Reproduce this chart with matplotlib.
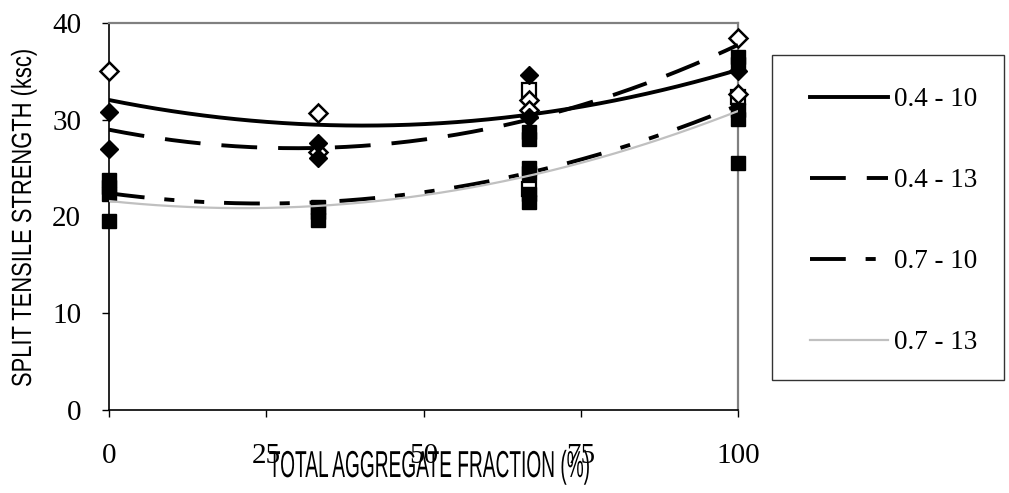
import numpy as np
import matplotlib
matplotlib.use("Agg")
import matplotlib.pyplot as plt
from matplotlib.lines import Line2D
from matplotlib.patches import Rectangle
from matplotlib.patheffects import AbstractPathEffect
from matplotlib.transforms import Affine2D

# aggregate fractions (%) used in the test series
fractions = [0, 33.3, 66.7, 100]

# measured points, grouped by marker style
filled_diamond_x = [0, 0, 33.3, 33.3, 66.7, 66.7, 100]
filled_diamond_y = [30.8, 27.0, 27.6, 26.0, 34.6, 30.3, 35.0]
open_diamond_x = [0, 33.3, 33.3, 66.7, 66.7, 100, 100]
open_diamond_y = [35.0, 30.7, 26.7, 32.0, 31.0, 38.4, 32.7]
filled_square_x = [0, 0, 0, 0, 33.3, 33.3, 33.3, 66.7, 66.7, 66.7, 66.7, 66.7, 66.7,
                   100, 100, 100, 100, 100]
filled_square_y = [23.8, 23.0, 22.3, 19.5, 21.0, 20.5, 19.6, 28.7, 28.0, 25.0, 24.5, 22.3, 21.5,
                   36.5, 35.8, 31.0, 30.1, 25.5]
open_square_x = [66.7, 66.7, 100]
open_square_y = [33.1, 22.8, 32.4]

# polynomial trendline levels read at each fraction
series_names = ["0.4 - 10", "0.4 - 13", "0.7 - 10", "0.7 - 13"]
trend_04_10 = [32.0, 29.6, 30.4, 35.2]
trend_04_13 = [29.0, 27.0, 30.1, 37.7]
trend_07_10 = [22.4, 21.5, 24.5, 31.5]
trend_07_13 = [21.6, 21.1, 24.2, 30.9]


class Squeeze(AbstractPathEffect):
    # squeeze text around its centre (the original labels are very condensed)
    def __init__(self, sx=1.0, sy=1.0):
        super().__init__()
        self.sx, self.sy = sx, sy

    def draw_path(self, renderer, gc, tpath, affine, rgbFace=None):
        ext = tpath.get_extents(affine)
        cx, cy = (ext.x0 + ext.x1) / 2, (ext.y0 + ext.y1) / 2
        sq = Affine2D().translate(-cx, -cy).scale(self.sx, self.sy).translate(cx, cy)
        renderer.draw_path(gc, tpath, affine + sq, rgbFace)


W, H = 1009, 493
fig = plt.figure(figsize=(W / 100, H / 100), dpi=100)
ax = fig.add_axes([109 / W, 1 - 410 / H, (738 - 109) / W, (410 - 23) / H])

# markers
ax.plot(open_square_x, open_square_y, ls="none", marker="s", ms=10.5, mfc="white",
        mec="black", mew=1.6, clip_on=False, zorder=3)
ax.plot(open_diamond_x, open_diamond_y, ls="none", marker="D", ms=9, mfc="white",
        mec="black", mew=1.8, clip_on=False, zorder=3)
ax.plot(filled_diamond_x, filled_diamond_y, ls="none", marker="D", ms=9, color="black",
        clip_on=False, zorder=4)
ax.plot(filled_square_x, filled_square_y, ls="none", marker="s", ms=10.5, color="black",
        clip_on=False, zorder=4)

# trendlines (2nd order polynomial, as in the original)
styles = [
    dict(color="black", lw=2.8, ls="-"),
    dict(color="black", lw=2.8, dashes=(9.2, 5.4)),
    dict(color="black", lw=2.8, dashes=(9.2, 5.1, 2.6, 5.1, 2.6, 5.1)),
    dict(color="#c0c0c0", lw=1.6, ls="-"),
]
xs = np.linspace(0, 100, 200)
handles = []
for trend, st in zip([trend_04_10, trend_04_13, trend_07_10, trend_07_13], styles):
    coef = np.polyfit(fractions, trend, 2)
    ax.plot(xs, np.polyval(coef, xs), zorder=5, **st)
    handles.append(Line2D([], [], **st))

ax.set_xlim(0, 100)
ax.set_ylim(0, 40)
ax.set_xticks([0, 25, 50, 75, 100])
ax.set_yticks([0, 10, 20, 30, 40])
ax.tick_params(direction="out", length=5, width=1, labelsize=21, colors="black")
ax.tick_params(axis="x", pad=19)
ax.tick_params(axis="y", pad=15)
for lab in ax.get_xticklabels() + ax.get_yticklabels():
    lab.set_family("Liberation Serif")
for side in ["left", "bottom"]:
    ax.spines[side].set_color("black")
    ax.spines[side].set_linewidth(1.2)
for side in ["top", "right"]:
    ax.spines[side].set_color("#808080")
    ax.spines[side].set_linewidth(1.6)

fig.text(430 / W, 1 - 467 / H, "TOTAL AGGREGATE FRACTION (%)", family="Liberation Sans",
         fontsize=27, ha="center", va="center", path_effects=[Squeeze(sx=0.51)])
fig.text(24 / W, 1 - 218 / H, "SPLIT TENSILE STRENGTH (ksc)", family="Liberation Sans",
         fontsize=20, rotation=90, ha="center", va="center", path_effects=[Squeeze(sy=0.79)])

# legend box
fig.patches.append(Rectangle((772 / W, 1 - 380 / H), (1004 - 772) / W, (380 - 55) / H,
                             transform=fig.transFigure, fill=False, ec="#333333", lw=1))
fig.legend(handles, series_names, loc="upper left", bbox_to_anchor=(810 / W, 1 - 87 / H),
           frameon=False, prop={"family": "Liberation Serif", "size": 19.5},
           handlelength=2.88, handletextpad=0.22, labelspacing=2.07, borderpad=0,
           borderaxespad=0)

fig.savefig("out.png", dpi=100)
